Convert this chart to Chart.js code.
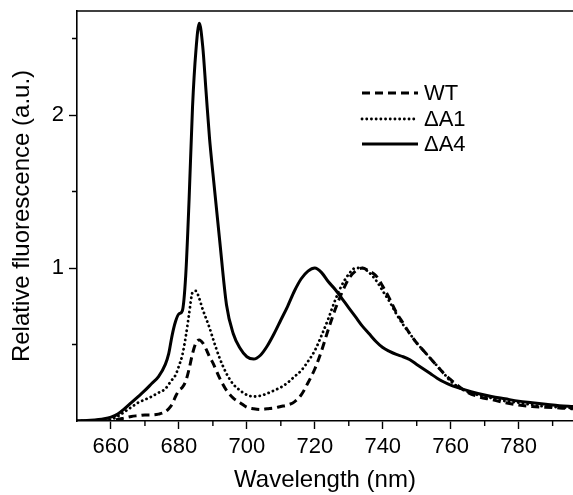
<!DOCTYPE html>
<html>
<head>
<meta charset="utf-8">
<script src="https://cdn.jsdelivr.net/npm/chart.js@4.4.1/dist/chart.umd.min.js"></script>
<style>
  html, body { margin: 0; background: #fff; }
  #wrap { width: 573px; height: 495px; position: relative; }
</style>
</head>
<body>
<div id="wrap"><canvas id="chart"></canvas></div>
<script>
// Spectres de fluorescence
const wavelengths = [650, 654, 658, 660, 662, 664, 666, 668, 670, 672, 674, 676, 677, 678, 679, 680, 681, 682, 683, 684,
  685, 686, 687, 688, 689, 690, 692, 694, 696, 698, 700, 702, 704, 706, 708, 710, 712, 714, 716, 718,
  720, 722, 724, 726, 728, 730, 732, 734, 736, 738, 740, 742, 744, 746, 748, 750, 752, 754, 756, 758,
  760, 764, 768, 772, 776, 780, 784, 788, 792, 796];

const wt = [0, 0, 0, 0.003, 0.01, 0.02, 0.03, 0.035, 0.04, 0.04, 0.045, 0.06, 0.08, 0.11, 0.16, 0.2, 0.22, 0.26, 0.34, 0.44,
  0.51, 0.53, 0.51, 0.47, 0.42, 0.38, 0.28, 0.2, 0.15, 0.12, 0.09, 0.08, 0.075, 0.08, 0.085, 0.095, 0.105, 0.125, 0.17, 0.25,
  0.34, 0.46, 0.6, 0.73, 0.84, 0.93, 0.98, 1.0, 0.98, 0.95, 0.88, 0.8, 0.71, 0.64, 0.57, 0.51, 0.46, 0.41, 0.36, 0.31,
  0.27, 0.2, 0.16, 0.14, 0.12, 0.105, 0.095, 0.09, 0.085, 0.08];

const dA1 = [0, 0, 0.005, 0.01, 0.03, 0.06, 0.09, 0.12, 0.14, 0.16, 0.185, 0.21, 0.24, 0.27, 0.3, 0.36, 0.43, 0.55, 0.7, 0.84,
  0.85, 0.8, 0.73, 0.67, 0.61, 0.54, 0.41, 0.31, 0.24, 0.2, 0.17, 0.16, 0.165, 0.18, 0.2, 0.22, 0.25, 0.29, 0.33, 0.39,
  0.46, 0.56, 0.67, 0.79, 0.89, 0.96, 1.0, 1.0, 0.97, 0.92, 0.85, 0.78, 0.7, 0.63, 0.57, 0.51, 0.46, 0.41, 0.36, 0.31,
  0.26, 0.2, 0.17, 0.15, 0.13, 0.12, 0.105, 0.095, 0.09, 0.085];

const dA4 = [0, 0.005, 0.015, 0.025, 0.045, 0.08, 0.12, 0.16, 0.2, 0.245, 0.29, 0.37, 0.44, 0.56, 0.65, 0.7, 0.72, 0.95, 1.45, 2.05,
  2.42, 2.6, 2.45, 2.15, 1.85, 1.62, 1.18, 0.76, 0.57, 0.475, 0.42, 0.405, 0.43, 0.49, 0.57, 0.66, 0.75, 0.85, 0.93, 0.98,
  1.0, 0.97, 0.91, 0.86, 0.8, 0.74, 0.68, 0.62, 0.57, 0.52, 0.48, 0.455, 0.435, 0.42, 0.4, 0.37, 0.34, 0.31, 0.28, 0.255,
  0.235, 0.205, 0.18, 0.16, 0.145, 0.13, 0.12, 0.11, 0.1, 0.095];

const seriesLabels = ["WT", "\u0394A1", "\u0394A4"];
const xTickLabels = [660, 680, 700, 720, 740, 760, 780];
const xMinorTicks = [670, 690, 710, 730, 750, 770, 790];
const yTickLabels = [1, 2];
const yMinorTicks = [0.5, 1.5, 2.5];

const FONT = "'Liberation Sans', Arial, sans-serif";
const toPts = (ys) => ys.map((y, i) => ({ x: wavelengths[i], y }));

const styles = [
  { dash: [8, 5], cap: "butt", width: 3 },
  { dash: [0.1, 4.6], cap: "round", width: 2.8 },
  { dash: [], cap: "butt", width: 3 },
];

const datasets = [wt, dA1, dA4].map((ys, i) => ({
  label: seriesLabels[i],
  data: toPts(ys),
  borderColor: "#000",
  borderWidth: styles[i].width,
  borderDash: styles[i].dash,
  borderCapStyle: styles[i].cap,
  pointRadius: 0,
  fill: false,
  cubicInterpolationMode: "monotone",
}));

// cadre du haut, petites graduations et légende
const frame = {
  id: "frame",
  afterDraw(chart) {
    const { ctx, chartArea: a, scales: { x, y } } = chart;
    ctx.save();
    ctx.strokeStyle = "#000";
    ctx.lineWidth = 1.6;
    ctx.beginPath();
    ctx.moveTo(a.left, a.top);
    ctx.lineTo(a.right, a.top);
    ctx.stroke();

    ctx.lineWidth = 1.4;
    ctx.beginPath();
    for (const v of xMinorTicks) {
      const px = x.getPixelForValue(v);
      ctx.moveTo(px, a.bottom);
      ctx.lineTo(px, a.bottom + 5);
    }
    for (const v of yMinorTicks) {
      const py = y.getPixelForValue(v);
      ctx.moveTo(a.left, py);
      ctx.lineTo(a.left - 5, py);
    }
    ctx.stroke();

    // légende
    const lx = a.left + 285, rows = [82, 108, 133];
    ctx.font = `22px ${FONT}`;
    ctx.fillStyle = "#000";
    ctx.textBaseline = "middle";
    styles.forEach((s, i) => {
      const yy = a.top + rows[i];
      ctx.lineWidth = s.width;
      ctx.setLineDash(s.dash);
      ctx.lineCap = s.cap;
      ctx.beginPath();
      ctx.moveTo(lx, yy);
      ctx.lineTo(lx + 56, yy);
      ctx.stroke();
      ctx.fillText(seriesLabels[i], lx + 62, yy + 1);
    });
    ctx.restore();
  },
};

new Chart(document.getElementById("chart"), {
  type: "line",
  data: { datasets },
  plugins: [frame],
  options: {
    responsive: true,
    maintainAspectRatio: false,
    animation: false,
    layout: { padding: { top: 11, right: 0, left: 0, bottom: 0 } },
    plugins: { legend: { display: false }, tooltip: { enabled: false } },
    scales: {
      x: {
        type: "linear",
        min: 650,
        max: 796,
        afterFit: (s) => { s.height = 74; s.paddingLeft = 0; s.paddingRight = 0; },
        border: { display: true, color: "#000", width: 1.6 },
        grid: {
          drawOnChartArea: false,
          tickLength: 8,
          tickWidth: 1.4,
          tickColor: (c) => (xTickLabels.includes(c.tick && c.tick.value) ? "#000" : "rgba(0,0,0,0)"),
        },
        ticks: {
          stepSize: 10,
          autoSkip: false,
          maxRotation: 0,
          padding: 5,
          color: "#000",
          font: { family: FONT, size: 22 },
          callback: (v) => (xTickLabels.includes(v) ? String(v) : ""),
        },
        title: {
          display: true,
          text: "Wavelength (nm)",
          color: "#000",
          font: { family: FONT, size: 24 },
          padding: { top: 0, bottom: 0 },
        },
      },
      y: {
        min: 0,
        max: 2.68,
        afterFit: (s) => { s.width = 77; s.paddingTop = 0; s.paddingBottom = 0; },
        border: { display: true, color: "#000", width: 1.6 },
        grid: {
          drawOnChartArea: false,
          tickLength: 8,
          tickWidth: 1.4,
          tickColor: (c) => (yTickLabels.includes(c.tick && c.tick.value) ? "#000" : "rgba(0,0,0,0)"),
        },
        ticks: {
          stepSize: 0.5,
          padding: 5,
          color: "#000",
          font: { family: FONT, size: 22 },
          callback: (v) => (yTickLabels.includes(v) ? String(v) : ""),
        },
        title: {
          display: true,
          text: "Relative fluorescence (a.u.)",
          color: "#000",
          font: { family: FONT, size: 24 },
          padding: { top: 8, bottom: 0 },
        },
      },
    },
  },
});
</script>
</body>
</html>
